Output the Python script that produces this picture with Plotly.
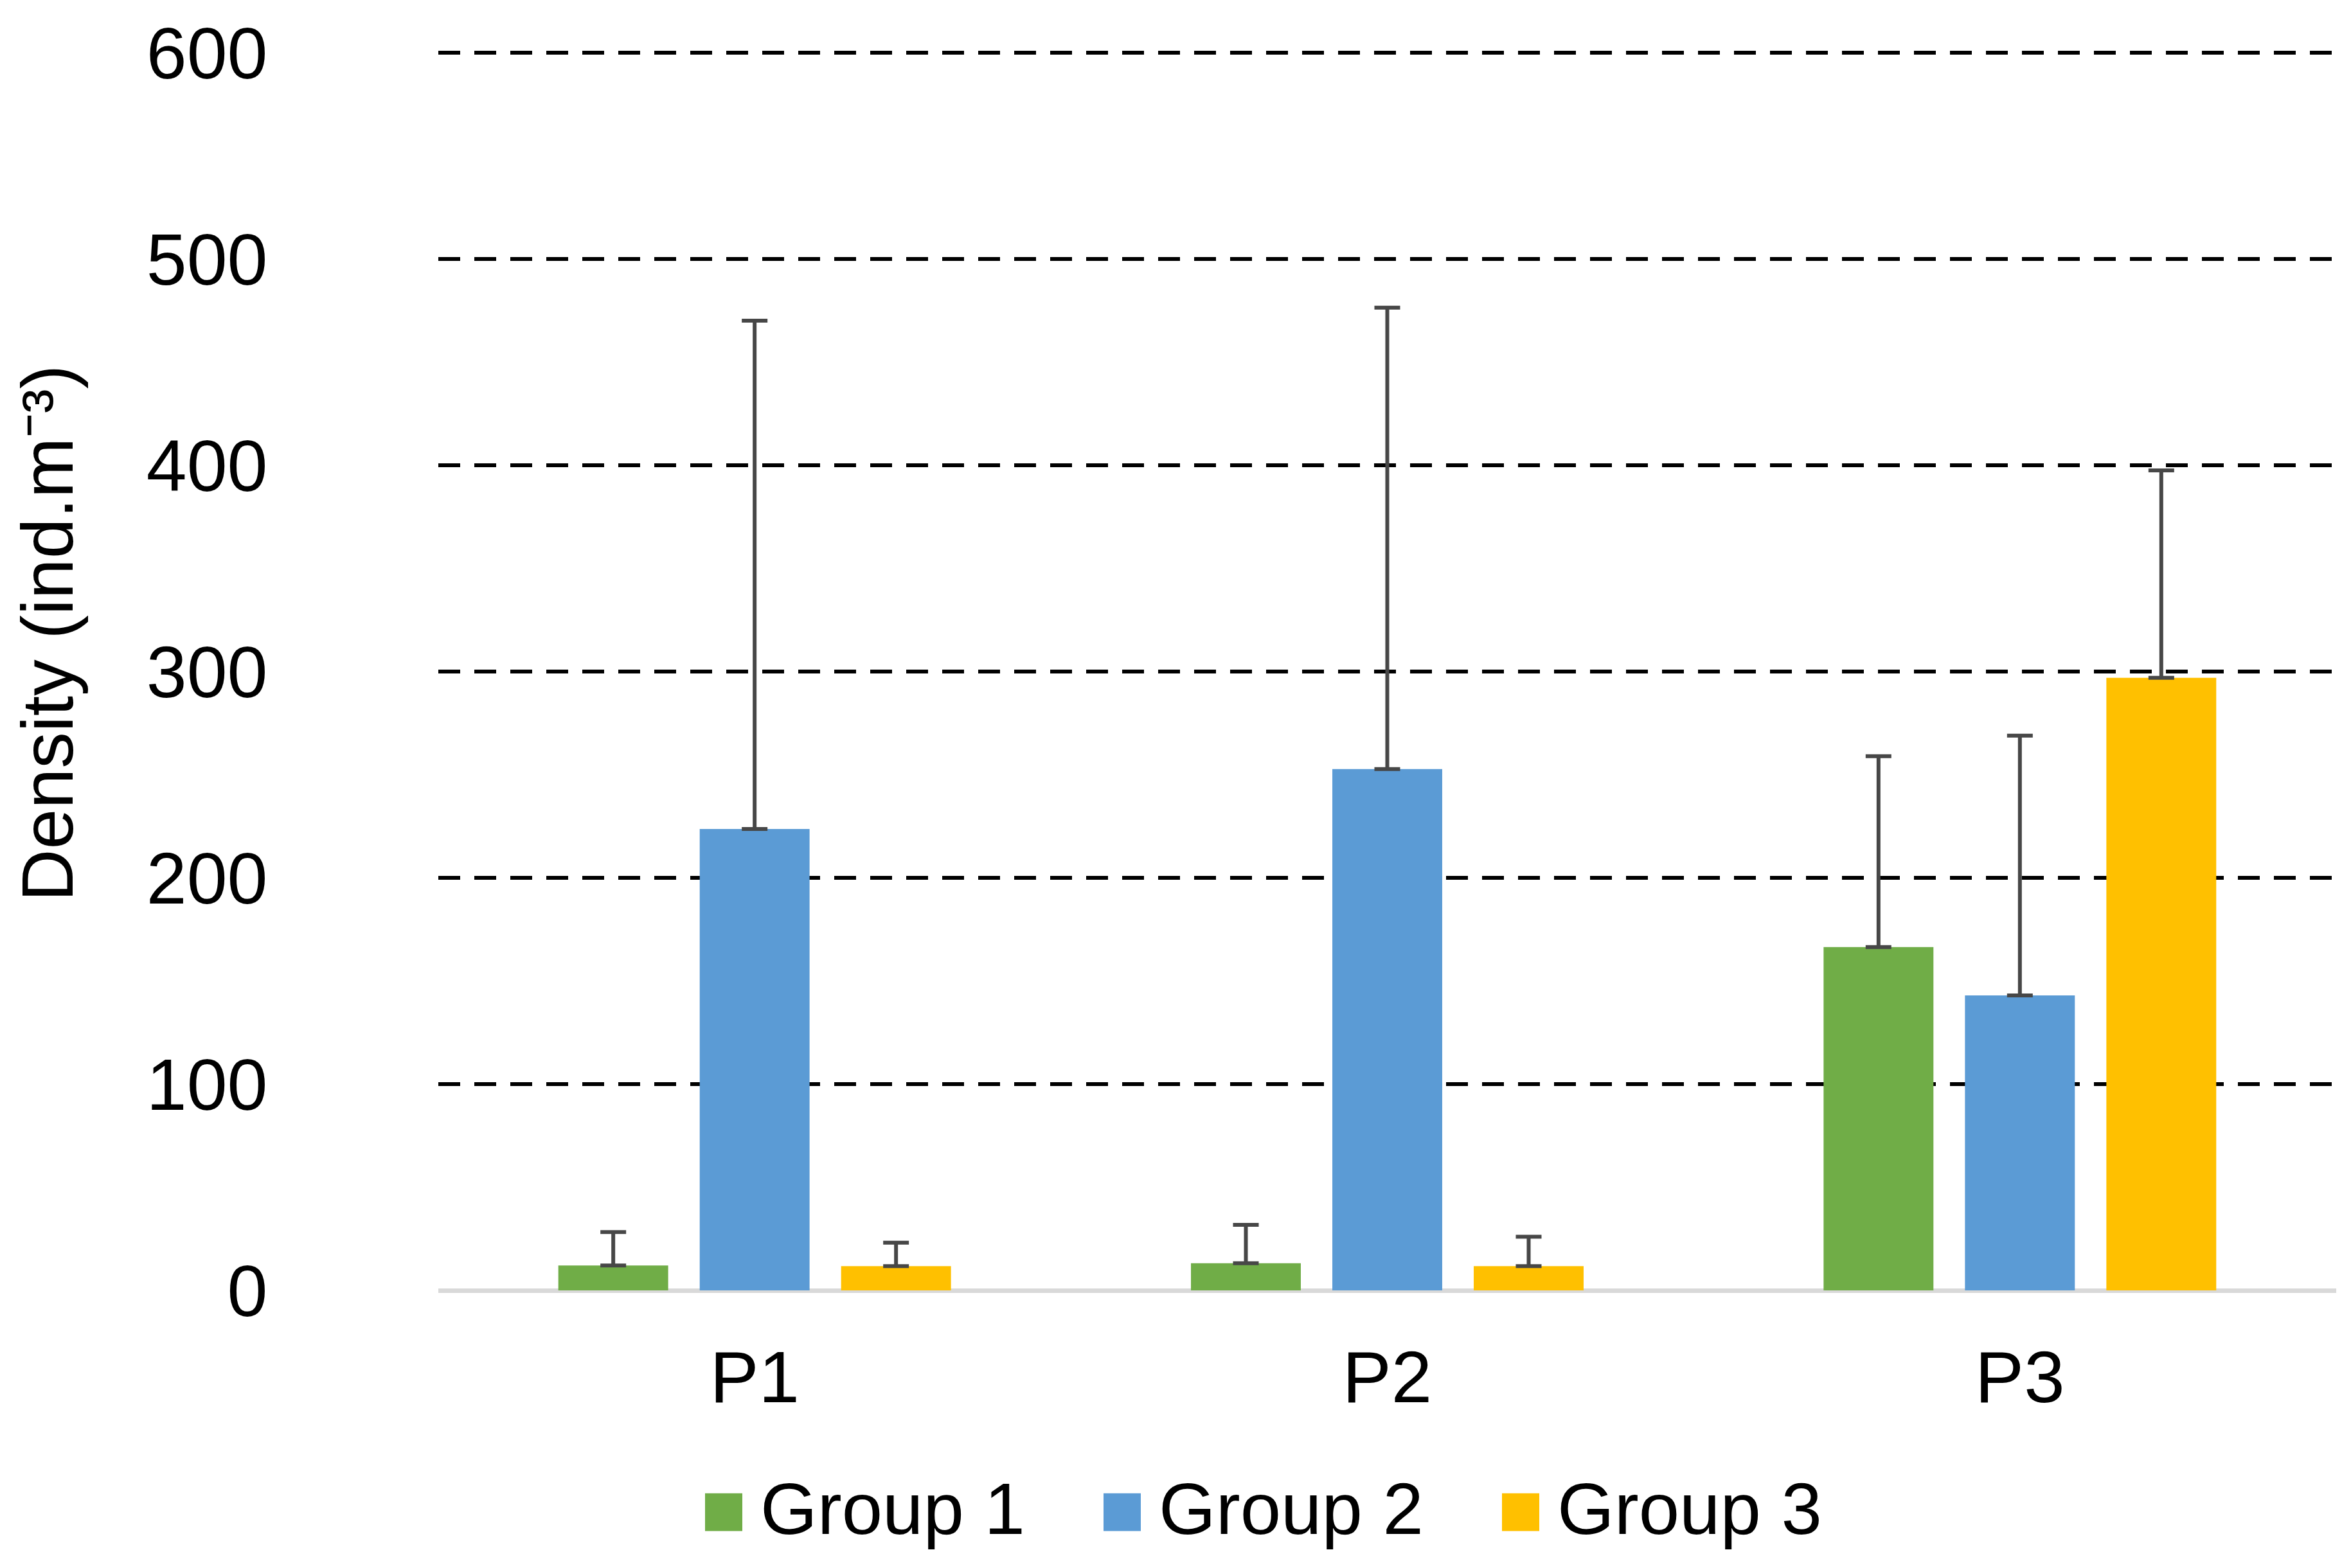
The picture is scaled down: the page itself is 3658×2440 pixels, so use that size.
import plotly.graph_objects as go

# ---------------- data ----------------
categories = ["P1", "P2", "P3"]
series_names = ["Group 1", "Group 2", "Group 3"]
group1 = [12.1, 13.2, 166.5]
group1_err = [16.2, 18.6, 92.5]
group2 = [223.7, 252.8, 143.0]
group2_err = [246.5, 223.7, 126.0]
group3 = [11.8, 11.8, 297.0]
group3_err = [11.3, 14.2, 100.6]
y_ticks = [0, 100, 200, 300, 400, 500, 600]

colors = ["#70AD47", "#5B9BD5", "#FFC000"]
values = [group1, group2, group3]
errors = [group1_err, group2_err, group3_err]

# ---------------- layout geometry ----------------
# the page body adds an 8px margin, so the figure is 8px smaller and all
# target page positions are converted to figure positions
OFF = 8
W, H = 3658 - OFF, 2440 - OFF
L, R, T, B = 674, 23, 66, 432
PW, PH = W - L - R, H - T - B
FONT = "Liberation Sans, Arial, sans-serif"


def px_x(x):  # page px -> paper fraction
    return (x - OFF - L) / PW


def px_y(y):
    return (H - B - (y - OFF)) / PH


fig = go.Figure()
for name, vals, errs, col in zip(series_names, values, errors, colors):
    fig.add_trace(go.Bar(
        x=categories, y=vals, name=name,
        marker=dict(color=col, line=dict(width=0)),
        error_y=dict(type="data", array=errs, arrayminus=[0] * len(errs),
                     symmetric=False, color="#474747", thickness=6, width=20),
        showlegend=False,
    ))

# manual legend (large square swatches)
shapes = []
annotations = []
for i, (name, col) in enumerate(zip(series_names, colors)):
    sx = 1097 + i * 620
    shapes.append(dict(type="rect", xref="paper", yref="paper",
                       x0=px_x(sx), x1=px_x(sx + 58),
                       y0=px_y(2383), y1=px_y(2324),
                       fillcolor=col, line=dict(width=0)))
    annotations.append(dict(text=name, xref="paper", yref="paper",
                            x=px_x(sx + 84), y=px_y(2348),
                            xanchor="left", yanchor="middle", showarrow=False,
                            font=dict(family=FONT, size=114, color="black")))

annotations.append(dict(text="Density (ind.m⁻³)", xref="paper", yref="paper",
                        x=px_x(74), y=px_y(985), textangle=-90, borderpad=0,
                        xanchor="center", yanchor="middle", showarrow=False,
                        font=dict(family=FONT, size=113, color="black")))

fig.update_layout(
    width=W, height=H,
    margin=dict(l=L, r=R, t=T, b=B, pad=0),
    paper_bgcolor="white", plot_bgcolor="white",
    barmode="group", bargap=0.3295, bargroupgap=0.223,
    font=dict(family=FONT, color="black"),
    shapes=shapes, annotations=annotations,
    xaxis=dict(showgrid=False, showline=False, zeroline=False,
               ticks="outside", ticklen=36, tickcolor="rgba(0,0,0,0)",
               tickfont=dict(family=FONT, size=114, color="black")),
    yaxis=dict(range=[0, 602], tickvals=y_ticks, ticktext=[str(v) for v in y_ticks],
               showgrid=True, gridcolor="black", gridwidth=6, griddash="34px,22px",
               zeroline=True, zerolinecolor="#D9D9D9", zerolinewidth=7,
               showline=False, ticks="outside", ticklen=242, tickcolor="rgba(0,0,0,0)",
               tickfont=dict(family=FONT, size=113, color="black")),
)

fig.write_html("out.html")
